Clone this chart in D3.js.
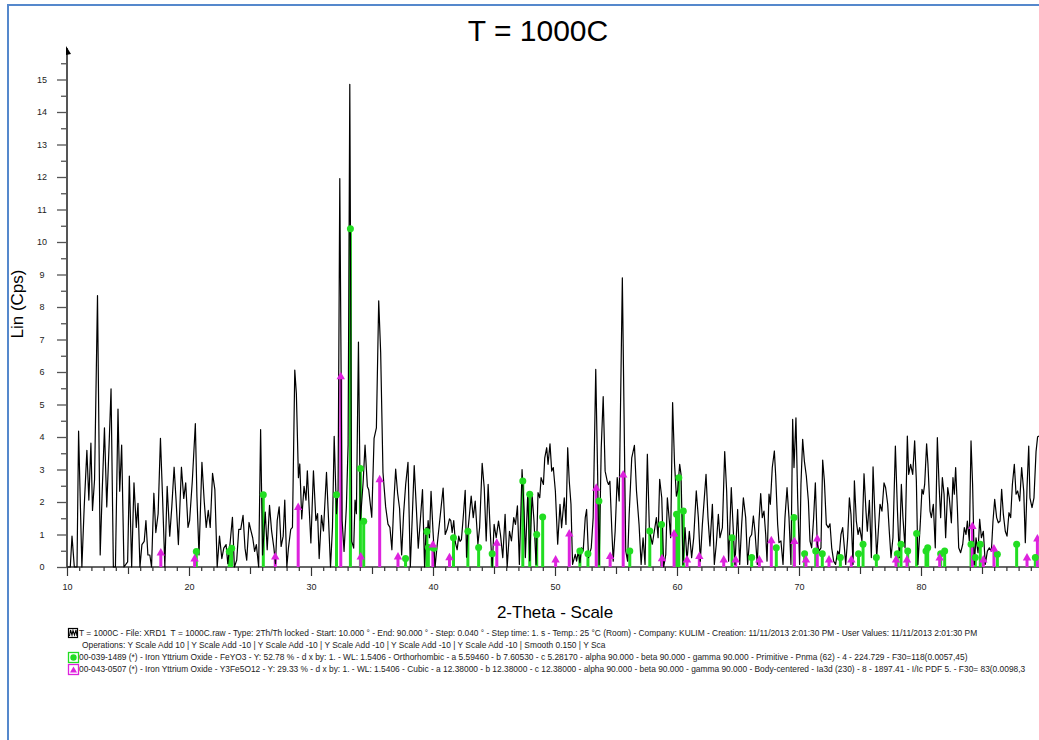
<!DOCTYPE html>
<html>
<head>
<meta charset="utf-8">
<script src="https://cdn.jsdelivr.net/npm/d3@7"></script>
<style>
  body { margin: 0; background: #fff; }
  svg { display: block; font-family: "Liberation Sans", Arial, sans-serif; }
</style>
</head>
<body>
<script>
//Scan data: 2-Theta (degrees) and Lin (Cps).
const scanTwoTheta = [10.05,10.27,10.41,10.6,10.82,10.95,11.22,11.41,11.63,11.79,11.96,12.09,12.26,12.5,12.72,12.88,13.07,13.26,13.45,13.61,13.8,13.97,14.18,14.32,14.48,14.67,14.97,15.11,15.3,15.49,15.68,15.82,15.98,16.14,16.33,16.47,16.63,16.79,16.93,17.12,17.28,17.47,17.66,17.83,18.02,18.21,18.42,18.59,18.78,18.94,19.13,19.38,19.57,19.73,19.92,20.05,20.27,20.52,20.65,20.82,21.06,21.25,21.41,21.58,21.74,21.93,22.12,22.31,22.5,22.69,22.85,23.04,23.18,23.37,23.56,23.72,23.91,24.08,24.24,24.43,24.59,24.73,24.92,25.08,25.22,25.38,25.52,25.71,25.87,26.03,26.25,26.41,26.6,26.77,26.96,27.09,27.23,27.39,27.55,27.72,27.85,28.02,28.15,28.34,28.48,28.67,28.8,28.97,29.08,29.24,29.43,29.59,29.7,29.99,30.2,30.4,30.54,30.67,30.86,31.02,31.27,31.43,31.6,31.76,31.9,32.09,32.22,32.36,32.55,32.71,32.9,33.04,33.18,33.34,33.5,33.61,33.72,33.89,34.05,34.27,34.43,34.62,34.73,34.98,35.17,35.36,35.55,35.71,35.9,36.12,36.31,36.47,36.63,36.8,36.94,37.1,37.26,37.43,37.59,37.76,37.95,38.14,38.3,38.46,38.63,38.79,38.96,39.14,39.31,39.44,39.55,39.6,39.71,39.84,40.0,40.17,40.36,40.83,41.0,41.16,41.35,41.46,41.57,41.7,41.84,41.98,42.11,42.22,42.33,42.5,42.64,42.75,42.86,43.13,43.3,43.46,43.68,43.82,44.03,44.2,44.36,44.52,44.69,44.85,45.01,45.18,45.37,45.53,45.72,45.91,46.08,46.27,46.43,46.62,46.76,46.92,47.08,47.3,47.47,47.57,47.77,47.93,48.12,48.28,48.45,48.61,48.75,48.86,49.05,49.16,49.32,49.43,49.59,49.73,49.86,50.03,50.22,50.41,50.54,50.76,50.9,51.04,51.17,51.31,51.44,51.66,51.77,51.91,52.04,52.18,52.31,52.48,52.59,52.75,52.97,53.13,53.34,53.48,53.62,53.79,53.95,54.11,54.28,54.39,54.5,54.66,54.77,54.93,55.1,55.26,55.52,55.66,55.8,55.95,56.08,56.29,56.51,56.68,56.89,57.06,57.22,57.38,57.57,57.74,57.98,58.14,58.31,58.45,58.58,58.75,58.91,59.08,59.21,59.35,59.48,59.64,59.8,59.95,60.05,60.22,60.33,60.49,60.66,60.82,61.01,61.2,61.37,61.58,61.75,61.91,62.08,62.38,62.54,62.7,62.9,63.06,63.22,63.39,63.52,63.72,63.91,64.07,64.23,64.45,64.59,64.75,64.97,65.14,65.3,65.44,65.63,65.79,65.96,66.12,66.26,66.39,66.58,66.72,66.86,66.99,67.13,67.27,67.38,67.54,67.65,67.81,67.98,68.09,68.25,68.36,68.52,68.69,68.85,69.02,69.18,69.34,69.48,69.59,69.75,69.89,70.05,70.16,70.3,70.44,70.6,70.77,70.9,71.04,71.2,71.34,71.5,71.64,71.8,71.94,72.08,72.24,72.4,72.54,72.68,72.84,73.0,73.17,73.3,73.44,73.58,73.72,73.83,73.99,74.13,74.26,74.43,74.54,74.7,74.84,74.97,75.16,75.33,75.49,75.6,75.77,75.93,76.07,76.23,76.37,76.5,76.64,76.8,76.97,77.1,77.27,77.4,77.54,77.7,77.9,78.06,78.22,78.39,78.52,78.69,78.88,78.99,79.15,79.32,79.48,79.62,79.75,79.95,80.08,80.19,80.3,80.46,80.57,80.74,80.85,81.01,81.17,81.34,81.48,81.61,81.75,81.89,82.02,82.19,82.32,82.49,82.62,82.73,82.84,82.98,83.09,83.25,83.42,83.55,83.69,83.8,83.96,84.1,84.23,84.37,84.51,84.67,84.81,84.95,85.11,85.27,85.44,85.6,85.77,85.9,86.04,86.2,86.34,86.48,86.61,86.75,86.91,87.05,87.21,87.35,87.49,87.65,87.79,87.92,88.09,88.25,88.42,88.55,88.69,88.83,88.93,89.1,89.26,89.43,89.56,89.8];
const scanCps = [0,0,0.95,0,0,4.18,0,1.85,3.59,2.06,3.81,1.74,2.7,8.35,0.37,2.27,4.28,1.85,3.75,5.48,0,0,4.86,2.33,3.75,0,0.16,2.8,0,2.59,1.22,1.96,0,0.69,0.79,1.43,0.37,0.37,0,2.27,1.06,1.64,3.96,2.17,0,2.48,0.95,1.85,3.07,2.06,0.69,3.07,2.11,2.59,1.22,1.43,2.64,4.41,2.17,0.37,3.22,2.01,1.22,1.74,1.22,2.88,2.38,0,0.95,0.26,0.58,0.69,0.1,0.74,1.53,0,0.21,1.16,1.16,1.59,0.58,0.21,1.37,1.11,0.9,0.48,0.69,0,4.23,0.37,1.69,0.53,1.9,1.11,0.58,0.1,1.43,1.85,0.63,0.95,2.06,0,0.58,1.16,1.22,6.06,5.34,2.75,3.17,1.48,2.48,2.06,2.96,0.74,2.96,1.43,1.64,0.26,1.59,1.11,2.91,1.53,0,1.22,4.02,1.64,2.38,11.95,1.43,0.48,1.85,3.75,14.85,0.79,0.58,2.06,1.64,6.92,1.43,2.59,3.75,2.48,2.38,1.53,3.96,4.28,8.19,6.61,2.91,1.85,1.32,1.22,0.53,2.06,3.01,2.27,1.8,0.37,1.64,2.54,3.22,0,1.53,3.12,1.85,0.58,1.43,2.38,0,1.22,1.11,1.43,0.9,2.33,1.11,0,0.74,2.43,1.0,1.16,1.48,1.43,1.06,1.43,0.74,0.53,0.95,0.79,0.84,1.64,2.36,0.3,1.1,2.18,1.52,2.03,0.7,1.21,3.19,2.44,0.8,2.54,1.1,0,1.31,0.9,1.41,1.0,0.29,1.62,0,1.1,0.8,1.52,1.31,1.88,0.08,3.0,1.72,0.29,2.29,0.19,2.24,1.41,0.08,2.29,2.13,2.75,2.54,3.36,3.67,3.16,3.79,2.95,3.06,2.34,0.7,1.93,1.21,2.13,1.31,3.67,2.64,1.93,0.08,0.39,0.18,0.49,0.13,0.59,0.49,1.52,1.77,0.29,0.59,1.52,6.08,3.16,0.08,3.67,5.24,2.95,2.64,2.54,2.64,1.1,0.18,1.1,2.75,2.03,8.9,4.7,0.49,0.18,1.62,3.36,3.74,2.34,1.31,0.08,0.9,0.08,3.47,1.1,0.7,1.1,1.52,0.9,2.7,2.13,0,0.39,2.13,1.52,0.9,5.06,3.16,2.18,2.34,3.16,2.85,0.08,1.21,0.18,1.1,0.29,0.9,2.34,1.52,0.18,1.31,2.85,1.52,0.65,1.93,0.08,0.7,1.62,0.9,1.21,3.55,2.34,0.18,2.44,1.31,0.08,1.77,0.08,1.31,2.13,1.52,0.08,0.9,1.0,1.57,1.1,0.08,1.41,2.26,1.52,1.72,1.0,0.18,2.24,1.93,3.06,3.57,2.8,1.31,0.75,0.8,0.08,1.52,2.44,1.52,0.08,4.54,3.06,4.59,2.13,0.08,2.54,3.93,3.26,2.8,2.03,0.8,0.59,1.52,2.59,0.7,0.49,0.59,3.29,2.65,1.31,1.21,1.33,0.59,0.18,0.08,0.49,0.37,1.0,1.21,0.59,0.08,0.9,2.13,1.62,0.08,2.65,1.41,1.0,1.21,0.8,2.87,1.72,1.1,2.05,0.29,3.08,1.52,0.29,1.1,1.93,1.72,2.59,2.44,1.93,1.1,0.29,0.9,3.72,1.83,0.29,2.54,1.52,0.59,4.03,2.85,3.16,2.85,3.88,2.65,0.08,1.41,2.39,2.24,2.54,3.79,3.16,1.72,1.52,1.93,0.59,3.98,2.54,1.52,2.75,2.24,0.9,2.44,2.13,1.36,2.75,2.24,3.06,1.83,0.59,0.44,0.7,1.21,1.0,1.41,0.8,3.88,2.54,0.08,0.9,0.44,1.47,0.9,1.1,0.08,0.49,0.59,0.49,1.41,2.08,1.52,1.36,1.41,2.39,1.62,1.1,0.95,1.67,1.52,2.54,3.16,2.24,2.34,2.03,3.06,2.34,0.75,2.44,3.72,2.13,1.83,2.13,3.55,4.01,4.05];

//Reference pattern 00-039-1489, FeYO3 (green sticks, circle markers).
const feyoTheta = [20.6,23.3,23.5,26.09,32.09,33.23,34.05,34.32,37.75,39.5,39.62,40.07,41.68,42.86,43.74,44.85,47.36,47.93,48.5,48.99,52.04,52.7,53.6,56.13,57.77,58.73,59.96,60.15,60.52,64.51,66.12,68.14,69.59,70.46,71.37,71.91,73.39,74.88,75.25,76.34,78.06,78.36,78.91,79.64,80.41,80.55,81.61,81.94,84.1,84.45,84.86,86.26,87.84,89.37];
const feyoCps = [0.48,0.48,0.58,2.22,2.22,10.41,3.03,1.41,0.26,1.09,0.6,0.58,0.9,1.1,0.6,0.41,2.65,2.24,1.0,1.54,0.49,0.41,2.03,0.49,1.11,1.31,1.62,2.75,1.72,0.9,0.29,0.59,1.52,0.41,0.49,0.41,0.29,0.41,0.7,0.29,0.41,0.7,0.49,1.03,0.49,0.59,0.41,0.49,0.7,0.29,0.7,0.39,0.7,0.29];

//Reference pattern 00-043-0507, Y3Fe5O12 (magenta sticks, triangle markers).
const yigTheta = [17.69,20.46,27.07,28.95,32.44,34.08,35.63,37.13,39.99,41.35,45.23,50.05,51.17,53.38,54.52,55.59,58.77,59.76,60.82,61.83,63.83,64.81,66.75,67.73,69.62,70.57,71.5,72.46,74.29,77.95,78.85,81.53,84.21,85.11,85.98,88.69,89.54];
const yigCps = [0.45,0.26,0.32,1.85,5.87,0.32,2.7,0.32,0.69,0.3,0.75,0.23,1.03,2.44,0.34,2.85,0.27,1.03,0.23,0.34,0.23,0.23,0.23,0.82,0.8,0.23,0.88,0.23,0.23,0.23,0.23,0.29,1.26,0.23,0.57,0.29,0.88];

//Axis ticks.
const yTickValues = [0,1,2,3,4,5,6,7,8,9,10,11,12,13,14,15];
const yMinorTicks = [0.5,1.5,2.5,3.5,4.5,5.5,6.5,7.5,8.5,9.5,10.5,11.5,12.5,13.5,14.5,15.5];
const xTickValues = [10,20,30,40,50,60,70,80];
const xMidTicks = [15,25,35,45,55,65,75,85];

//Legend lines.
const legendLines = [
    "T = 1000C - File: XRD1  T = 1000C.raw - Type: 2Th/Th locked - Start: 10.000 ° - End: 90.000 ° - Step: 0.040 ° - Step time: 1. s - Temp.: 25 °C (Room) - Company: KULIM - Creation: 11/11/2013 2:01:30 PM - User Values: 11/11/2013 2:01:30 PM",
    "Operations: Y Scale Add 10 | Y Scale Add -10 | Y Scale Add -10 | Y Scale Add -10 | Y Scale Add -10 | Y Scale Add -10 | Smooth 0.150 | Y Sca",
    "00-039-1489 (*) - Iron Yttrium Oxide - FeYO3 - Y: 52.78 % - d x by: 1. - WL: 1.5406 - Orthorhombic - a 5.59460 - b 7.60530 - c 5.28170 - alpha 90.000 - beta 90.000 - gamma 90.000 - Primitive - Pnma (62) - 4 - 224.729 - F30=118(0.0057,45)",
    "00-043-0507 (*) - Iron Yttrium Oxide - Y3Fe5O12 - Y: 29.33 % - d x by: 1. - WL: 1.5406 - Cubic - a 12.38000 - b 12.38000 - c 12.38000 - alpha 90.000 - beta 90.000 - gamma 90.000 - Body-centered - Ia3d (230) - 8 - 1897.41 - I/Ic PDF 5. - F30= 83(0.0098,3"
];

const green = "#22dd22";
const magenta = "#dd22dd";

const width = 1039;
const height = 740;
const svg = d3.select("body").append("svg").attr("width", width).attr("height", height);

//Scales.
const xScale = d3.scaleLinear().domain([10, 90]).range([67, 1043]);
const yScale = d3.scaleLinear().domain([0, 15]).range([567, 79.5]);

//Outer frame (only top and left show in the picture).
svg.append("path")
    .attr("d", "M8,740 L8,5 L1039,5")
    .attr("fill", "none")
    .attr("stroke", "#5588cc")
    .attr("stroke-width", 2);

//Title.
svg.append("text")
    .attr("x", 538).attr("y", 41)
    .attr("text-anchor", "middle")
    .attr("font-size", 30)
    .text("T = 1000C");

//Y-Axis.
const yAxis = d3.axisLeft(yScale).tickValues(yTickValues).tickSize(10).tickSizeOuter(0).tickFormat(d3.format("d"));
const yAxisG = svg.append("g").attr("transform", "translate(67,0)").call(yAxis);
yAxisG.select(".domain").remove();
yAxisG.selectAll("line").attr("stroke", "#555").attr("stroke-width", 1.3);
yAxisG.selectAll("text").attr("font-size", 9).attr("font-family", "Liberation Sans, Arial").attr("fill", "#222")
    .attr("text-anchor", "middle").attr("x", -25);

const yMinor = d3.axisLeft(yScale).tickValues(yMinorTicks).tickSize(6).tickSizeOuter(0).tickFormat("");
const yMinorG = svg.append("g").attr("transform", "translate(67,0)").call(yMinor);
yMinorG.select(".domain").remove();
yMinorG.selectAll("line").attr("stroke", "#555").attr("stroke-width", 1.3);

//X-Axis.
const xAxis = d3.axisBottom(xScale).tickValues(xTickValues).tickSize(9).tickSizeOuter(0).tickFormat(d3.format("d"));
const xAxisG = svg.append("g").attr("transform", "translate(0,567)").call(xAxis);
xAxisG.select(".domain").remove();
xAxisG.selectAll("line").attr("stroke", "#333").attr("stroke-width", 1.2);
xAxisG.selectAll("text").attr("font-size", 9).attr("font-family", "Liberation Sans, Arial").attr("fill", "#222").attr("y", 17);

const xMid = d3.axisBottom(xScale).tickValues(xMidTicks).tickSize(7).tickSizeOuter(0).tickFormat("");
const xMidG = svg.append("g").attr("transform", "translate(0,567)").call(xMid);
xMidG.select(".domain").remove();
xMidG.selectAll("line").attr("stroke", "#333").attr("stroke-width", 1.2);

const xMinor = d3.axisBottom(xScale).tickValues(d3.range(11, 90, 1).filter(d => d % 5 !== 0)).tickSize(4).tickSizeOuter(0).tickFormat("");
const xMinorG = svg.append("g").attr("transform", "translate(0,567)").call(xMinor);
xMinorG.select(".domain").remove();
xMinorG.selectAll("line").attr("stroke", "#333").attr("stroke-width", 1.2);

//Axis lines and arrow.
svg.append("line").attr("x1", 67).attr("x2", 67).attr("y1", 48).attr("y2", 567)
    .attr("stroke", "#555").attr("stroke-width", 2);
svg.append("line").attr("x1", 67).attr("x2", 1039).attr("y1", 567).attr("y2", 567)
    .attr("stroke", "#333").attr("stroke-width", 1.5);
svg.append("path").attr("d", "M66,46 L71,54 L66,55 Z").attr("fill", "#000");

//Stick patterns.
const sticks = svg.append("g");

sticks.selectAll(".feyo")
    .data(feyoTheta.map((t, i) => ({t: t, c: feyoCps[i]})))
    .enter()
    .append("line")
    .attr("x1", d => xScale(d.t)).attr("x2", d => xScale(d.t))
    .attr("y1", yScale(0)).attr("y2", d => yScale(d.c))
    .attr("stroke", green).attr("stroke-width", 3);

sticks.selectAll(".yig")
    .data(yigTheta.map((t, i) => ({t: t, c: yigCps[i]})))
    .enter()
    .append("line")
    .attr("x1", d => xScale(d.t)).attr("x2", d => xScale(d.t))
    .attr("y1", yScale(0)).attr("y2", d => yScale(d.c))
    .attr("stroke", magenta).attr("stroke-width", 3);

//Scan line.
const line = d3.line()
    .x((d, i) => xScale(scanTwoTheta[i]))
    .y(d => yScale(d));

svg.append("path")
    .datum(scanCps)
    .attr("d", line)
    .attr("fill", "none")
    .attr("stroke", "#000")
    .attr("stroke-width", 1.2)
    .attr("stroke-linejoin", "round");

//Markers on top of the sticks.
svg.selectAll(".feyoDot")
    .data(feyoTheta.map((t, i) => ({t: t, c: feyoCps[i]})))
    .enter()
    .append("circle")
    .attr("cx", d => xScale(d.t))
    .attr("cy", d => yScale(d.c))
    .attr("r", 3.5)
    .attr("fill", green);

svg.selectAll(".yigTri")
    .data(yigTheta.map((t, i) => ({t: t, c: yigCps[i]})))
    .enter()
    .append("path")
    .attr("transform", d => "translate(" + xScale(d.t) + "," + yScale(d.c) + ")")
    .attr("d", "M0,-4.5 L4.2,3 L-4.2,3 Z")
    .attr("fill", magenta);

//Axis titles.
svg.append("text")
    .attr("transform", "translate(23,304) rotate(-90)")
    .attr("text-anchor", "middle")
    .attr("font-size", 17)
    .text("Lin (Cps)");

svg.append("text")
    .attr("x", 555).attr("y", 618)
    .attr("text-anchor", "middle")
    .attr("font-size", 17)
    .text("2-Theta - Scale");

//Legend.
const legendY = [636, 648, 660, 672];
const legendX = [79, 82, 79, 79];
svg.selectAll(".legendText")
    .data(legendLines)
    .enter()
    .append("text")
    .attr("x", (d, i) => legendX[i])
    .attr("y", (d, i) => legendY[i])
    .attr("font-size", 8.4)
    .attr("fill", "#222")
    .style("white-space", "pre")
    .text(d => d);

//Legend icons.
svg.append("rect").attr("x", 68.5).attr("y", 628.5).attr("width", 9).attr("height", 9)
    .attr("fill", "#fff").attr("stroke", "#000").attr("stroke-width", 1.2);
svg.append("path").attr("d", "M69.5,636 L70.5,630 L72,635 L73,630.5 L74.5,635 L76,630 L77,636")
    .attr("fill", "none").attr("stroke", "#000").attr("stroke-width", 1.1);

svg.append("rect").attr("x", 68.5).attr("y", 652.5).attr("width", 10).attr("height", 10)
    .attr("fill", "#fff").attr("stroke", green).attr("stroke-width", 1.3);
svg.append("circle").attr("cx", 73.5).attr("cy", 657.5).attr("r", 3.2).attr("fill", green);

svg.append("rect").attr("x", 68.5).attr("y", 664.5).attr("width", 10).attr("height", 10)
    .attr("fill", "#fff").attr("stroke", magenta).attr("stroke-width", 1.3);
svg.append("path").attr("d", "M73.5,666.5 L77,672.5 L70,672.5 Z").attr("fill", magenta);
</script>
</body>
</html>
